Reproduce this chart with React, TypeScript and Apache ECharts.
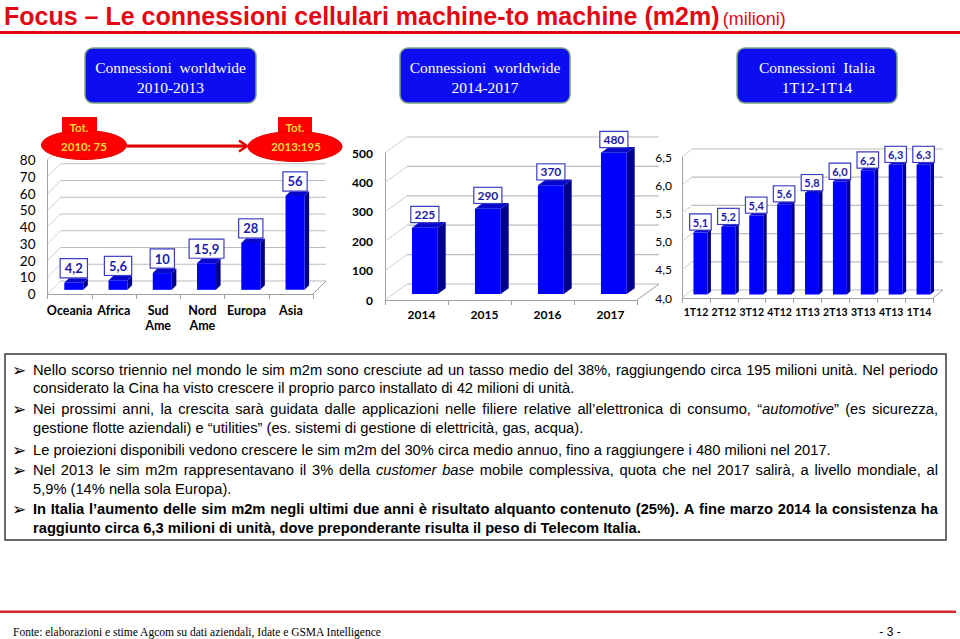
import React, { useEffect, useRef } from 'react';
import * as echarts from 'echarts';

// ---------- DATA ----------
const regionCategories = ['Oceania', 'Africa', 'Sud\nAme', 'Nord\nAme', 'Europa', 'Asia'];
const regionValues = [4.2, 5.6, 10, 15.9, 28, 56];
const regionTicks = [0, 10, 20, 30, 40, 50, 60, 70, 80];

const yearCategories = ['2014', '2015', '2016', '2017'];
const yearValues = [225, 290, 370, 480];
const yearTicks = [0, 100, 200, 300, 400, 500];

const quarterCategories = ['1T12', '2T12', '3T12', '4T12', '1T13', '2T13', '3T13', '4T13', '1T14'];
const quarterValues = [5.1, 5.2, 5.4, 5.6, 5.8, 6.0, 6.2, 6.3, 6.3];
const quarterTicks = [4.0, 4.5, 5.0, 5.5, 6.0, 6.5];

const totals = [
  { top: 'Tot.', bottom: '2010: 75' },
  { top: 'Tot.', bottom: '2013:195' },
];

const TITLE_MAIN = 'Focus – Le connessioni cellulari machine-to machine (m2m)';
const TITLE_UNIT = '(milioni)';
const BUTTONS = [
  ['Connessioni  worldwide', '2010-2013'],
  ['Connessioni  worldwide', '2014-2017'],
  ['Connessioni  Italia', '1T12-1T14'],
];
const BODY_LINES: { bullet: boolean; justify: boolean; parts: [string, string][] }[] = [
  { bullet: true, justify: true, parts: [['n', 'Nello scorso triennio nel mondo le sim m2m sono cresciute ad un tasso medio del 38%, raggiungendo circa 195 milioni unità. Nel periodo']] },
  { bullet: false, justify: false, parts: [['n', 'considerato la Cina ha visto crescere il proprio parco installato di 42 milioni di unità.']] },
  { bullet: true, justify: true, parts: [['n', 'Nei prossimi anni, la crescita sarà guidata dalle applicazioni nelle filiere relative all’elettronica di consumo, “'], ['i', 'automotive'], ['n', '” (es sicurezza,']] },
  { bullet: false, justify: false, parts: [['n', 'gestione flotte aziendali) e “utilities” (es. sistemi di gestione di elettricità, gas, acqua).']] },
  { bullet: true, justify: false, parts: [['n', 'Le proiezioni disponibili vedono crescere le sim m2m del 30% circa medio annuo, fino a raggiungere i 480 milioni nel 2017.']] },
  { bullet: true, justify: true, parts: [['n', 'Nel 2013 le sim m2m rappresentavano il 3% della '], ['i', 'customer base'], ['n', ' mobile complessiva, quota che nel 2017 salirà, a livello  mondiale, al']] },
  { bullet: false, justify: false, parts: [['n', '5,9% (14% nella sola Europa).']] },
  { bullet: true, justify: true, parts: [['b', 'In Italia l’aumento delle sim m2m negli ultimi due anni è risultato alquanto contenuto (25%). A fine marzo 2014 la consistenza ha']] },
  { bullet: false, justify: false, parts: [['b', 'raggiunto circa 6,3 milioni di unità, dove preponderante risulta il peso di Telecom Italia.']] },
];
const FOOTER_SOURCE = 'Fonte: elaborazioni e stime Agcom su dati aziendali, Idate e GSMA Intelligence';
const PAGE_NUMBER = '- 3 -';

// ---------- STYLE ----------
const FRONT = '#0000ff';
const SIDE = '#00008c';
const TOPC = '#0808cc';
const RED = '#e30613';
const GRID_C = '#bcbcbc';
const WALL_C = '#d0d0d0';
const AXIS_C = '#a0a0a0';
const LABEL_FONT = 'Lato';
const BODY_SIZE = 14.7;
const BODY_FAMILY = 'Liberation Sans';
const BODY_X = 33;
const BODY_RIGHT = 938;

const fmt1 = (v: number) => String(v).replace('.', ',');
const fmtFixed = (v: number) => v.toFixed(1).replace('.', ',');

function wallSeries(idx: number, ticks: number[], cfg: any) {
  return {
    type: 'custom',
    xAxisIndex: idx,
    yAxisIndex: idx,
    z: 1,
    silent: true,
    clip: false,
    data: ticks.map((t) => [0, t]),
    renderItem: (params: any, api: any) => {
      const cs = params.coordSys;
      const t = api.value(1);
      const y = api.coord([0, t])[1];
      const left = cs.x;
      const right = cs.x + cs.width;
      const children: any[] = [
        { type: 'line', shape: { x1: left, y1: y, x2: left + cfg.dx, y2: y + cfg.dy }, style: { stroke: WALL_C, lineWidth: 1 } },
        { type: 'line', shape: { x1: left + cfg.dx, y1: y + cfg.dy, x2: right + cfg.dx, y2: y + cfg.dy }, style: { stroke: GRID_C, lineWidth: 1.2 } },
      ];
      if (params.dataIndex === 0) {
        children.push({ type: 'line', shape: { x1: right, y1: y, x2: right + cfg.dx, y2: y + cfg.dy }, style: { stroke: AXIS_C, lineWidth: 1 } });
      }
      return { type: 'group', children };
    },
  };
}

function barSeries(idx: number, values: number[], labels: string[], cfg: any) {
  return {
    type: 'custom',
    xAxisIndex: idx,
    yAxisIndex: idx,
    z: 3,
    silent: true,
    clip: false,
    data: values.map((v, i) => [i, v]),
    renderItem: (params: any, api: any) => {
      const i = api.value(0);
      const v = api.value(1);
      const base = api.coord([i, cfg.min]);
      const top = api.coord([i, v]);
      const band = api.size([1, 0])[0];
      const bw = band * cfg.barRatio;
      const fx = cfg.dx * cfg.f0;
      const fy = cfg.dy * cfg.f0;
      const sx = cfg.dx * (cfg.f1 - cfg.f0);
      const sy = cfg.dy * (cfg.f1 - cfg.f0);
      const cx = base[0] + fx;
      const x0 = cx - bw / 2;
      const x1 = cx + bw / 2;
      const yb = base[1] + fy;
      const yt = top[1] + fy;
      return {
        type: 'group',
        children: [
          { type: 'polygon', shape: { points: [[x1, yt], [x1 + sx, yt + sy], [x1 + sx, yb + sy], [x1, yb]] }, style: { fill: SIDE } },
          { type: 'polygon', shape: { points: [[x0, yt], [x0 + sx, yt + sy], [x1 + sx, yt + sy], [x1, yt]] }, style: { fill: TOPC } },
          { type: 'rect', shape: { x: x0, y: yt, width: bw, height: yb - yt }, style: { fill: FRONT } },
          {
            type: 'text',
            x: cx,
            y: yt + sy - cfg.labelGap,
            z2: 10,
            style: {
              text: labels[params.dataIndex],
              fontFamily: LABEL_FONT,
              fontWeight: 'bold',
              fontSize: cfg.labelSize,
              lineHeight: cfg.labelLH,
              fill: '#1c1ca8',
              align: 'center',
              verticalAlign: 'bottom',
              textAlign: 'center',
              textVerticalAlign: 'bottom',
              backgroundColor: '#ffffff',
              borderColor: '#3b3bc4',
              borderWidth: 1.2,
              padding: cfg.labelPad,
            },
          },
        ],
      };
    },
  };
}

const cfg1 = { dx: 13, dy: -13, f0: 0.32, f1: 0.67, min: 0, barRatio: 0.43, labelGap: 1, labelSize: 13, labelLH: 14, labelPad: [2, 4, 2, 4] };
const cfg2 = { dx: 22, dy: -16, f0: 0.38, f1: 0.74, min: 0, barRatio: 0.41, labelGap: 0, labelSize: 12, labelLH: 13, labelPad: [1, 3, 1, 3] };
const cfg3 = { dx: 10, dy: -8, f0: 0.45, f1: 0.8, min: 4, barRatio: 0.5, labelGap: 0, labelSize: 11, labelLH: 12, labelPad: [1.5, 2.5, 1.5, 2.5] };

function xAxisCfg(gridIndex: number, data: string[], extra: any) {
  return {
    gridIndex,
    type: 'category',
    data,
    axisLine: { show: true, lineStyle: { color: AXIS_C, width: 1 } },
    axisTick: { show: true, length: 5, lineStyle: { color: AXIS_C } },
    splitLine: { show: false },
    axisLabel: { interval: 0, color: '#000', fontFamily: LABEL_FONT, fontWeight: 'bold', ...extra },
  };
}
function yAxisCfg(gridIndex: number, min: number, max: number, interval: number, extra: any) {
  return {
    gridIndex,
    type: 'value',
    min,
    max,
    interval,
    axisLine: { show: true, lineStyle: { color: AXIS_C, width: 1 } },
    axisTick: { show: false },
    splitLine: { show: false },
    axisLabel: { color: '#000', fontFamily: LABEL_FONT, ...extra },
  };
}

const STYLE_FONT: Record<string, string> = {
  n: `${BODY_SIZE}px "${BODY_FAMILY}"`,
  i: `italic ${BODY_SIZE}px "${BODY_FAMILY}"`,
  b: `bold ${BODY_SIZE}px "${BODY_FAMILY}"`,
};

function bodyLineText(ln: { justify: boolean; parts: [string, string][] }, ctx: CanvasRenderingContext2D | null) {
  if (!ln.justify || !ctx) {
    return { text: ln.parts.map(([k, s]) => `{${k}|${s}}`).join(''), gap: 0 };
  }
  const words: [string, string][][] = [[]];
  ln.parts.forEach(([k, s]) => {
    s.split(' ').forEach((p, j) => {
      if (j > 0) words.push([]);
      if (p) words[words.length - 1].push([k, p]);
    });
  });
  const ws = words.filter((w) => w.length > 0);
  let total = 0;
  ws.forEach((w) =>
    w.forEach(([k, p]) => {
      ctx.font = STYLE_FONT[k];
      total += ctx.measureText(p).width;
    })
  );
  const gap = Math.max(2, (BODY_RIGHT - BODY_X - total) / (ws.length - 1));
  const text = ws.map((w) => w.map(([k, p]) => `{${k}|${p}}`).join('')).join('{s| }');
  return { text, gap };
}

function buildGraphic() {
  const g: any[] = [];
  let ctx: CanvasRenderingContext2D | null = null;
  try {
    ctx = document.createElement('canvas').getContext('2d');
  } catch (e) {
    ctx = null;
  }
  // title
  g.push({
    type: 'text',
    x: 4,
    y: 28,
    style: {
      text: `{a|${TITLE_MAIN}} {b|${TITLE_UNIT}}`,
      verticalAlign: 'bottom',
      textVerticalAlign: 'bottom',
      rich: {
        a: { fontFamily: 'Liberation Sans', fontWeight: 'bold', fontSize: 25, fill: RED, verticalAlign: 'bottom', lineHeight: 27 },
        b: { fontFamily: 'Liberation Sans', fontSize: 18, fill: RED, verticalAlign: 'bottom', lineHeight: 24 },
      },
    },
  });
  g.push({ type: 'rect', shape: { x: 0, y: 31, width: 960, height: 3 }, style: { fill: RED } });

  // buttons
  const btn = [
    { x: 85, w: 171 },
    { x: 400, w: 170 },
    { x: 737, w: 160 },
  ];
  btn.forEach((b, i) => {
    g.push({ type: 'rect', shape: { x: b.x, y: 48, width: b.w, height: 55, r: 8 }, style: { fill: '#0d0df2', stroke: '#7fa67f', lineWidth: 1.5 } });
    g.push({ type: 'text', x: b.x + b.w / 2, y: 67.5, style: { text: BUTTONS[i][0], fontFamily: 'Liberation Serif', fontSize: 15.5, fill: '#fff', align: 'center', verticalAlign: 'middle', textAlign: 'center', textVerticalAlign: 'middle' } });
    g.push({ type: 'text', x: b.x + b.w / 2, y: 87.5, style: { text: BUTTONS[i][1], fontFamily: 'Liberation Serif', fontSize: 15.5, fill: '#fff', align: 'center', verticalAlign: 'middle', textAlign: 'center', textVerticalAlign: 'middle' } });
  });

  // totals shapes
  const tots = [
    { tabX: 62, tabW: 35, cx: 84, cy: 145, rx: 42.5, ry: 14.5, tx: 79, bx: 84 },
    { tabX: 278, tabW: 34, cx: 295, cy: 146.5, rx: 47, ry: 15, tx: 295, bx: 296 },
  ];
  tots.forEach((t, i) => {
    g.push({ type: 'rect', z: 100, shape: { x: t.tabX, y: 117, width: t.tabW, height: 20 }, style: { fill: '#ff0000' } });
    g.push({ type: 'ellipse', z: 100, shape: { cx: t.cx, cy: t.cy, rx: t.rx, ry: t.ry }, style: { fill: '#ff0000', stroke: '#e00000', lineWidth: 1 } });
    g.push({ type: 'text', z: 101, x: t.tx, y: 127.5, style: { text: totals[i].top, fontFamily: LABEL_FONT, fontWeight: 'bold', fontSize: 11.5, fill: '#ffd83a', align: 'center', verticalAlign: 'middle', textAlign: 'center', textVerticalAlign: 'middle' } });
    g.push({ type: 'text', z: 101, x: t.bx, y: 146, style: { text: totals[i].bottom, fontFamily: LABEL_FONT, fontWeight: 'bold', fontSize: 11.5, fill: '#ffd83a', align: 'center', verticalAlign: 'middle', textAlign: 'center', textVerticalAlign: 'middle' } });
  });
  g.push({ type: 'line', z: 100, shape: { x1: 127, y1: 146, x2: 246, y2: 146 }, style: { stroke: '#e00000', lineWidth: 3 } });
  g.push({ type: 'polyline', z: 100, shape: { points: [[239, 140.5], [247, 146], [239, 151.5]] }, style: { stroke: '#e00000', lineWidth: 2.5, fill: null } });

  // text box
  g.push({ type: 'rect', shape: { x: 5, y: 354, width: 941, height: 186 }, style: { fill: '#fff', stroke: '#3a3a3a', lineWidth: 1.5 } });
  const ys = [370, 388, 409, 428, 450, 470, 489, 509, 528];
  BODY_LINES.forEach((ln, i) => {
    if (ln.bullet) {
      g.push({ type: 'text', x: 12, y: ys[i], style: { text: '➢', fontFamily: 'DejaVu Sans', fontSize: 17, fill: '#000', verticalAlign: 'middle', textVerticalAlign: 'middle' } });
    }
    const { text, gap } = bodyLineText(ln, ctx);
    g.push({
      type: 'text',
      x: BODY_X,
      y: ys[i],
      style: {
        text,
        verticalAlign: 'middle',
        textVerticalAlign: 'middle',
        rich: {
          n: { fontFamily: BODY_FAMILY, fontSize: BODY_SIZE, fill: '#000' },
          i: { fontFamily: BODY_FAMILY, fontSize: BODY_SIZE, fontStyle: 'italic', fill: '#000' },
          b: { fontFamily: BODY_FAMILY, fontSize: BODY_SIZE, fontWeight: 'bold', fill: '#000' },
          s: { fontFamily: BODY_FAMILY, fontSize: BODY_SIZE, fill: '#000', width: gap },
        },
      },
    });
  });

  // footer
  g.push({ type: 'rect', shape: { x: 0, y: 610.5, width: 956, height: 2.5 }, style: { fill: '#d8262e' } });
  g.push({ type: 'text', x: 13, y: 632, style: { text: FOOTER_SOURCE, fontFamily: 'Liberation Serif', fontSize: 11.5, fill: '#000', verticalAlign: 'middle', textVerticalAlign: 'middle' } });
  g.push({ type: 'text', x: 890, y: 632, style: { text: PAGE_NUMBER, fontFamily: 'Liberation Sans', fontSize: 12, fill: '#000', align: 'center', verticalAlign: 'middle', textAlign: 'center', textVerticalAlign: 'middle' } });
  return g;
}

export default function App() {
  const ref = useRef<HTMLDivElement>(null);
  useEffect(() => {
    if (!ref.current) return;
    const chart = echarts.init(ref.current, undefined, { renderer: 'svg' });
    const option: any = {
      animation: false,
      backgroundColor: '#ffffff',
      grid: [
        { left: 47.5, top: 160, width: 265.5, height: 134, outerBoundsMode: 'none' },
        { left: 385, top: 153, width: 252, height: 147, outerBoundsMode: 'none' },
        { left: 682, top: 157, width: 251, height: 141, outerBoundsMode: 'none' },
      ],
      xAxis: [
        xAxisCfg(0, regionCategories, { fontSize: 12.5, margin: 9, lineHeight: 15 }),
        xAxisCfg(1, yearCategories, { fontSize: 12, margin: 8, padding: [0, 0, 0, 10] }),
        xAxisCfg(2, quarterCategories, { fontSize: 10.5, margin: 8.5 }),
      ],
      yAxis: [
        yAxisCfg(0, regionTicks[0], regionTicks[regionTicks.length - 1], regionTicks[1] - regionTicks[0], { fontSize: 13.5, margin: 12 }),
        yAxisCfg(1, yearTicks[0], yearTicks[yearTicks.length - 1], yearTicks[1] - yearTicks[0], { fontSize: 12, margin: 12, fontWeight: 'bold' }),
        yAxisCfg(2, quarterTicks[0], quarterTicks[quarterTicks.length - 1], quarterTicks[1] - quarterTicks[0], { fontSize: 12, margin: 10, formatter: (v: number) => fmtFixed(v) }),
      ],
      series: [
        wallSeries(0, regionTicks, cfg1),
        wallSeries(1, yearTicks, cfg2),
        wallSeries(2, quarterTicks, cfg3),
        barSeries(0, regionValues, regionValues.map(fmt1), cfg1),
        barSeries(1, yearValues, yearValues.map(fmt1), cfg2),
        barSeries(2, quarterValues, quarterValues.map(fmtFixed), cfg3),
      ],
      graphic: buildGraphic(),
    };
    chart.setOption(option);
    return () => chart.dispose();
  }, []);
  return (
    <div
      ref={ref}
      style={{ position: 'fixed', left: 0, top: 0, width: 960, height: 639, background: '#fff' }}
    />
  );
}
